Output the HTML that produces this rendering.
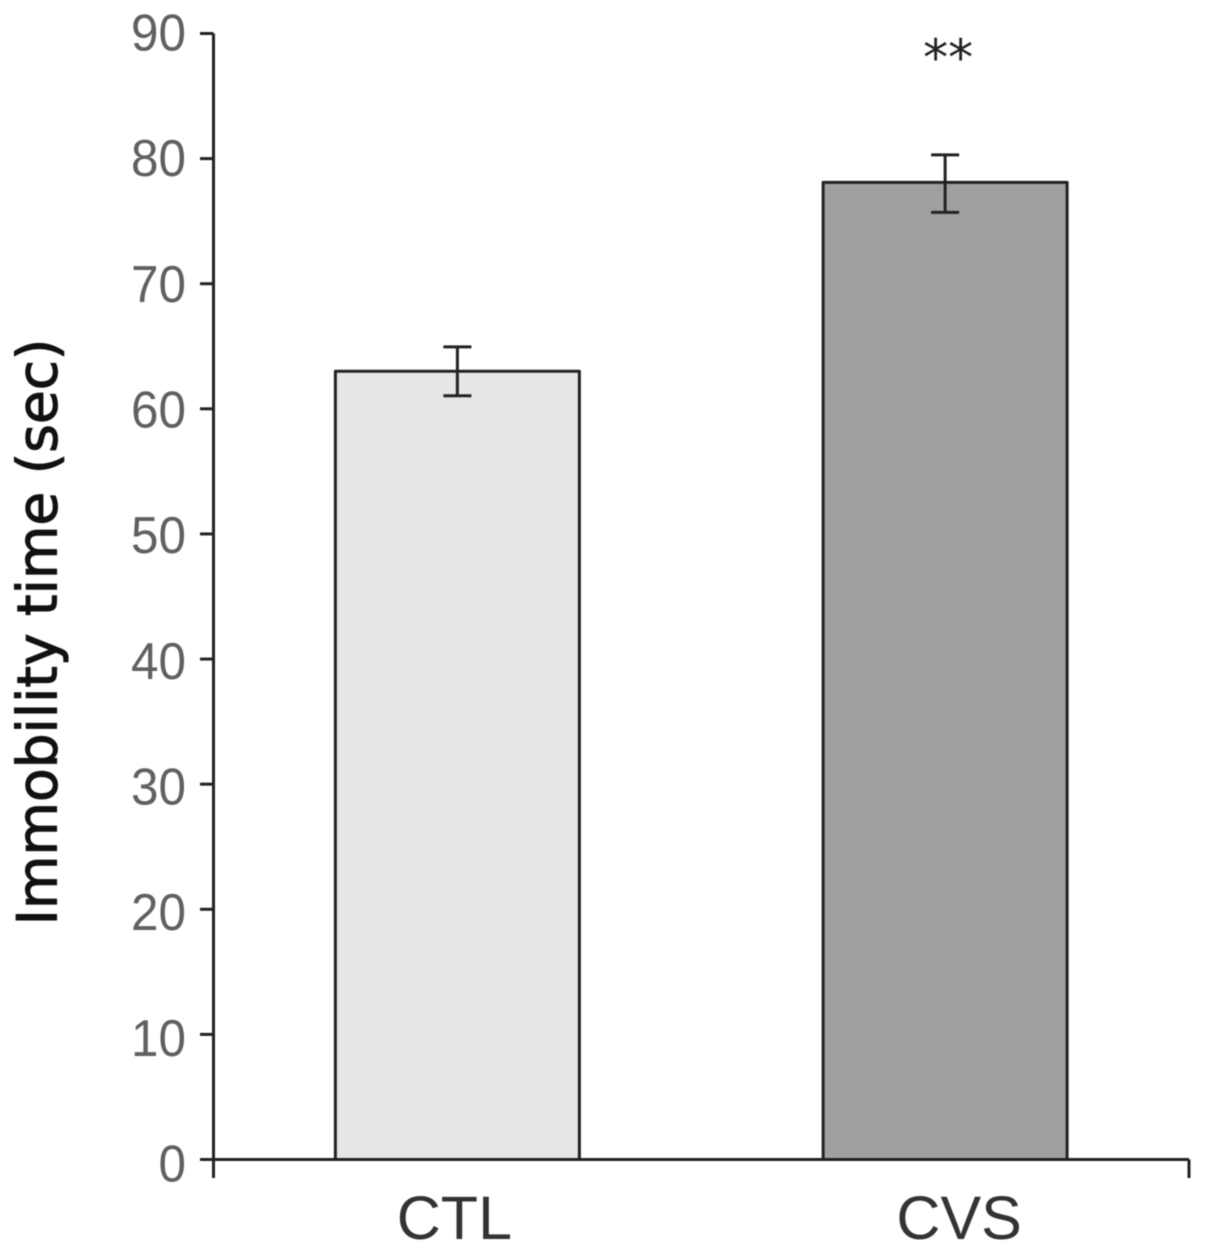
<!DOCTYPE html>
<html>
<head>
<meta charset="utf-8">
<style>
html,body{margin:0;padding:0;background:#fff;}
svg{display:block;filter:blur(0.6px);}
text{font-family:"Liberation Sans",sans-serif;}
</style>
</head>
<body>
<svg id="chart" width="1205" height="1253" viewBox="0 0 1205 1253" xmlns="http://www.w3.org/2000/svg"></svg>
<script>
const categories = ['CTL', 'CVS'];
const values = [63, 78.1];
const errorUpper = [1.95, 2.2];
const errorLower = [1.95, 2.4];
const barFills = ['#e6e6e6', '#a0a0a0'];
const significance = ['', '**'];
const yTicks = [0, 10, 20, 30, 40, 50, 60, 70, 80, 90];

const svg = document.getElementById('chart');
const NS = 'http://www.w3.org/2000/svg';
const y0 = 1159.5, yTop = 33.5, yMax = 90, xL = 213.5, xR = 1189;
const y = v => y0 - (v / yMax) * (y0 - yTop);
const labelBaseline = v => 1181.5 - (v / yMax) * 1131;
const bandW = (xR - xL) / categories.length;
const xC = i => xL + bandW * (i + 0.5);
const labelCenter = i => xC(i) + (i === 0 ? -3 : 14);
const barW = 244;

function add(tag, attrs, text) {
  const el = document.createElementNS(NS, tag);
  for (const k in attrs) el.setAttribute(k, attrs[k]);
  if (text !== undefined) el.textContent = text;
  svg.appendChild(el);
  return el;
}
const lineStyle = {stroke: '#222', 'stroke-width': 3, fill: 'none', 'stroke-linejoin': 'round'};

categories.forEach((c, i) => {
  const bar = add('rect', {x: xC(i) - barW / 2, y: y(values[i]), width: barW, height: y0 - y(values[i]), ...lineStyle});
  bar.setAttribute('fill', barFills[i]);
  
  

  const cx = xC(i);
  const hi = y(values[i] + errorUpper[i]);
  const lo = y(values[i] - errorLower[i]);
  const stem = add('line', {x1: cx, x2: cx, y1: hi, y2: lo, ...lineStyle});
  
  
  const capT = add('line', {x1: cx - 14, x2: cx + 14, y1: hi, y2: hi, ...lineStyle});
  
  
  const capB = add('line', {x1: cx - 14, x2: cx + 14, y1: lo, y2: lo, ...lineStyle});
  
  

  const label = add('text', {x: labelCenter(i), y: 1239, 'text-anchor': 'middle', 'font-size': 61, fill: '#333'}, c);
  
  

  if (significance[i]) {
    const star = add('text', {x: cx + 3, y: 75, 'text-anchor': 'middle', 'font-size': 50, fill: '#222', style: 'font-family:"DejaVu Sans",sans-serif'}, significance[i]);
    
    
  }
});

const yAxis = add('line', {x1: xL, x2: xL, y1: yTop, y2: 1178, ...lineStyle});


const xAxis = add('line', {x1: xL, x2: xR, y1: y0, y2: y0, ...lineStyle});


const xEnd = add('line', {x1: xR, x2: xR, y1: y0, y2: 1178, ...lineStyle});



yTicks.forEach(v => {
  const t = add('line', {x1: 200, x2: xL, y1: y(v), y2: y(v), ...lineStyle});
  
  
  const l = add('text', {transform: 'translate(186 ' + labelBaseline(v) + ') scale(0.95 1)', 'text-anchor': 'end', 'font-size': 52, fill: '#606060'}, String(v));
  
  
});

const title = add('text', {transform: 'translate(56.5 632) rotate(-90)', 'text-anchor': 'middle', 'font-size': 55, fill: '#111', stroke: '#111', 'stroke-width': 1.1, style: 'font-family:"DejaVu Sans",sans-serif'}, 'Immobility time (sec)');


</script>
</body>
</html>
